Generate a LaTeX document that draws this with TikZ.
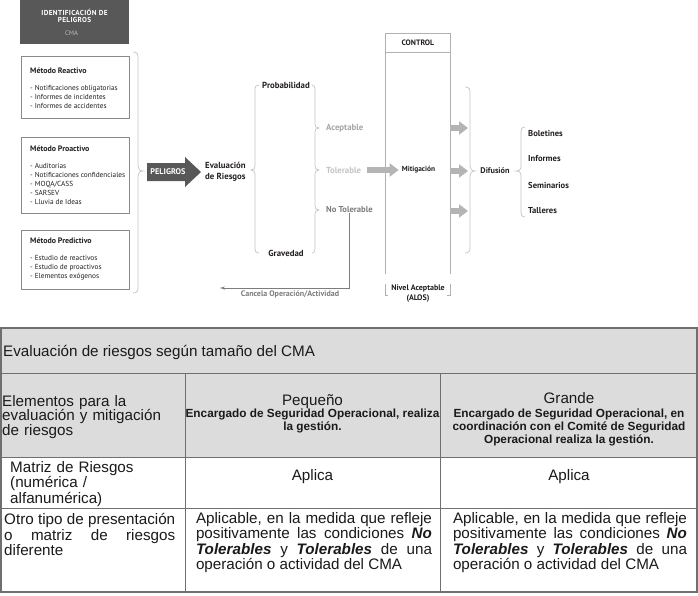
\documentclass[tikz,border=0pt]{standalone}
\usepackage{fontspec}
\setmainfont{Liberation Sans}
\newfontfamily\dgfont{PT Sans}
\newfontfamily\dgwide[LetterSpace=5]{PT Sans}
\usetikzlibrary{arrows.meta}
\hyphenpenalty=10000
\exhyphenpenalty=10000
\definecolor{darkgr}{HTML}{585858}
\definecolor{boxgr}{HTML}{8A8A8A}
\definecolor{brcgr}{HTML}{C4C4C4}
\definecolor{acept}{HTML}{A6A6A6}
\definecolor{tolc}{HTML}{C4C4C4}
\definecolor{notol}{HTML}{7D7D7D}
\definecolor{arrgr}{HTML}{B4B4B4}
\definecolor{ctrlgr}{HTML}{B0B0B0}
\definecolor{txtc}{HTML}{231F20}
\definecolor{cmagr}{HTML}{BDBDBD}
\definecolor{tabfill}{HTML}{DCDCDC}
\definecolor{tabline}{HTML}{6F6F6F}
\definecolor{tabtxt}{HTML}{1A1A1A}
\newcommand\dgsize[2]{\fontsize{#1}{#2}\selectfont}
\tikzset{
  dg/.style={font=\dgfont\dgsize{7.3}{9}, text=txtc, inner sep=0},
  dgb/.style={dg, font=\dgfont\bfseries\dgsize{8.8}{10}},
  mbox/.style={draw=boxgr, line width=0.7, minimum width=108, inner sep=0},
  mtext/.style={dg, anchor=west, align=left},
  brc/.style={draw=brcgr, line width=0.7},
  ctrlline/.style={draw=ctrlgr, line width=0.8},
  blkarrow/.style={draw=arrgr, line width=6.4, -{Triangle[length=9,width=13]}},
  cline/.style={draw=notol, line width=0.8, -{Stealth[length=5,width=3.2]}},
  tabline/.style={draw=tabline, line width=1},
  tt/.style={font=\dgsize{15.2}{15.5}, text=tabtxt, inner sep=0},
  ttb/.style={font=\bfseries\dgsize{11.8}{12.6}, text=tabtxt, inner sep=0, align=center},
  jst/.style={tt, align=justify}
}
\begin{document}
\begin{tikzpicture}[x=1pt,y=-1pt]
\useasboundingbox (0,0) rectangle (698,595);
\fill[white] (0,0) rectangle (698,595);

% ---------- identification box
\node[fill=darkgr, minimum width=109, minimum height=44, anchor=north west, inner sep=0] (idbox) at (20,0) {};
\node[dg, text=white, align=center, font=\dgwide\bfseries\dgsize{7.2}{6.8}] (idt) at (74.5,16.2) {IDENTIFICACIÓN DE\\PELIGROS};
\node[dg, text=cmagr, font=\dgfont\dgsize{6.6}{7}] (cma) at (71.5,33.5) {CMA};

% ---------- method boxes
\node[mbox, minimum height=62] (mr) at (75,87) {};
\node[mtext] (mrt) at (30,88) {{\bfseries\dgsize{7.9}{9}Método Reactivo}\\[8pt]- Notificaciones obligatorias\\- Informes de incidentes\\- Informes de accidentes};
\node[mbox, minimum height=76] (mp) at (75,175) {};
\node[mtext] (mpt) at (30,175.5) {{\bfseries\dgsize{7.9}{9}Método Proactivo}\\[8pt]- Auditorias\\- Notificaciones confidenciales\\- MOQA/CASS\\- SARSEV\\- Lluvia de Ideas};
\node[mbox, minimum height=59] (mpr) at (75,259.5) {};
\node[mtext] (mprt) at (30,259) {{\bfseries\dgsize{7.9}{9}Método Predictivo}\\[8pt]- Estudio de reactivos\\- Estudio de proactivos\\- Elementos exógenos};

% big brace
\draw[brc] (133,52) .. controls (136.5,52) and (138,53.5) .. (138,57) -- (138,166) .. controls (138,169) and (139.5,171) .. (143,171) .. controls (139.5,171) and (138,173) .. (138,176) -- (138,288) .. controls (138,291.5) and (136.5,293) .. (133,293);

% PELIGROS arrow
\fill[darkgr] (147,163) -- (185,163) -- (185,157) -- (201,172) -- (185,187) -- (185,181) -- (147,181) -- cycle;
\node[dg, text=white, font=\dgfont\bfseries\dgsize{8.2}{9}] (pel) at (168,172) {PELIGROS};

% Evaluacion
\node[dgb, anchor=west, align=left, font=\dgfont\bfseries\dgsize{8.8}{10.5}] (ev) at (205,172) {Evaluación\\de Riesgos};

\node[dgb] (prob) at (286,85) {Probabilidad};
\node[dgb] (grav) at (286,253) {Gravedad};

% left brace of probabilidad/gravedad
\draw[brc] (259,85) .. controls (256,85) and (255,86.5) .. (255,89) -- (255,166) .. controls (255,168.5) and (254,170) .. (251,170) .. controls (254,170) and (255,171.5) .. (255,174) -- (255,249) .. controls (255,251.5) and (256,253) .. (259,253);
% right brace with three tips
\draw[brc] (312,85) .. controls (314,85) and (315,86.5) .. (315,89)
  -- (315,124) .. controls (315,126.5) and (316,128) .. (319,128) .. controls (316,128) and (315,129.5) .. (315,132)
  -- (315,166) .. controls (315,168.5) and (316,170) .. (319,170) .. controls (316,170) and (315,171.5) .. (315,174)
  -- (315,206) .. controls (315,208.5) and (316,210) .. (319,210) .. controls (316,210) and (315,211.5) .. (315,214)
  -- (315,249) .. controls (315,251.5) and (314,253) .. (312,253);

\node[dgb, anchor=west, text=acept] (acep) at (326,128) {Aceptable};
\node[dgb, anchor=west, text=tolc] (tol) at (326,170) {Tolerable};
\node[dgb, anchor=west, text=notol, font=\dgfont\bfseries\dgsize{8.6}{10}] (nt) at (326,210) {No Tolerable};

% control column
\node[dg, draw=ctrlgr, line width=0.8, minimum width=65, minimum height=19, anchor=north west, font=\dgfont\bfseries\dgsize{7.8}{8}] (ctrl) at (385,33) {CONTROL};
\draw[ctrlline] (ctrl.south west) -- ++(0,221);
\draw[ctrlline] (ctrl.south east) -- ++(0,221);
\node[dg, font=\dgfont\bfseries\dgsize{7.4}{8}] (mit) at (418.5,170) {Mitigación};
\draw[blkarrow, shorten <=6, shorten >=3] (tol.east) -- (mit.west);

\node[dg, align=center, font=\dgfont\bfseries\dgsize{8}{10}] (niv) at (418,294) {Nivel Aceptable\\(ALOS)};
\draw[ctrlline] (385,284) -- (385,295) -- (388,295);
\draw[ctrlline] (450,284) -- (450,295) -- (447,295);

% cancel line
\coordinate (cancelEnd) at (220,288);
\draw[cline] (nt.south) |- (cancelEnd);
\node[dg, text=notol, font=\dgfont\bfseries\dgsize{8}{9}] (canc) at (290,294.5) {Cancela Operación/Actividad};

% three arrows to difusion
\draw[blkarrow] (450,128) -- (468,128);
\draw[blkarrow] (450,171) -- (468,171);
\draw[blkarrow] (450,211) -- (468,211);

% difusion braces
\draw[brc] (465,87) .. controls (468.5,87) and (470,88.5) .. (470,92) -- (470,166) .. controls (470,169) and (471.5,171) .. (475,171) .. controls (471.5,171) and (470,173) .. (470,176) -- (470,248) .. controls (470,251.5) and (468.5,253) .. (465,253);
\node[dg, font=\dgfont\bfseries\dgsize{8.2}{9}] (dif) at (495,171) {Difusión};
\draw[brc] (525,127) .. controls (522,127) and (521,128.5) .. (521,131) -- (521,167) .. controls (521,169.5) and (519.5,171) .. (516,171) .. controls (519.5,171) and (521,172.5) .. (521,175) -- (521,213) .. controls (521,215.5) and (522,217) .. (525,217);

\node[dgb, anchor=west, font=\dgfont\bfseries\dgsize{8.6}{10}] (bol) at (528,133) {Boletines};
\node[dgb, anchor=west, font=\dgfont\bfseries\dgsize{8.6}{10}] (inf) at (528,159) {Informes};
\node[dgb, anchor=west, font=\dgfont\bfseries\dgsize{8.6}{10}] (sem) at (528,185) {Seminarios};
\node[dgb, anchor=west, font=\dgfont\bfseries\dgsize{8.6}{10}] (tal) at (528,211) {Talleres};

% ---------- table
\fill[tabfill] (1,328) rectangle (697,457);
\draw[tabline] (1,373) -- (697,373);
\draw[tabline] (1,457) -- (697,457);
\draw[tabline] (1,508) -- (697,508);
\draw[tabline] (185,373) -- (185,592);
\draw[tabline] (440,373) -- (440,592);
\draw[tabline, line width=1.3] (1,328) rectangle (697,592);

\node[tt, anchor=west] (ttl) at (3,352) {Evaluación de riesgos según tamaño del CMA};
\node[tt, anchor=west, text width=180, align=left, font=\dgsize{15.2}{14.6}] (h1) at (2,417) {Elementos para la\\evaluación y mitigación\\de riesgos};
\node[tt] (peq) at (312.5,402) {Pequeño};
\node[ttb] (peqd) at (312.5,421) {Encargado de Seguridad Operacional, realiza\\la gestión.};
\node[tt] (gra) at (569,398) {Grande};
\node[ttb] (grad) at (569,427.5) {Encargado de Seguridad Operacional, en\\coordinación con el Comité de Seguridad\\Operacional realiza la gestión.};

\node[tt, anchor=west, align=left, text width=170] (m1) at (10,484) {Matriz de Riesgos\\(numérica /\\alfanumérica)};
\node[tt] (a2) at (312.5,477) {Aplica};
\node[tt] (a3) at (569,477) {Aplica};

\node[jst, anchor=west, text width=171] (o1) at (4,534.5) {Otro tipo de presentación\linebreak o matriz de riesgos\linebreak diferente};
\node[jst, text width=236] (o2) at (314,542.5) {Aplicable, en la medida que refleje\linebreak positivamente las condiciones \textbf{\textit{No}}\linebreak \textbf{\textit{Tolerables}} y \textbf{\textit{Tolerables}} de una\linebreak operación o actividad del CMA};
\node[jst, text width=234] (o3) at (570,542.5) {Aplicable, en la medida que refleje\linebreak positivamente las condiciones \textbf{\textit{No}}\linebreak \textbf{\textit{Tolerables}} y \textbf{\textit{Tolerables}} de una\linebreak operación o actividad del CMA};
\end{tikzpicture}
\end{document}
